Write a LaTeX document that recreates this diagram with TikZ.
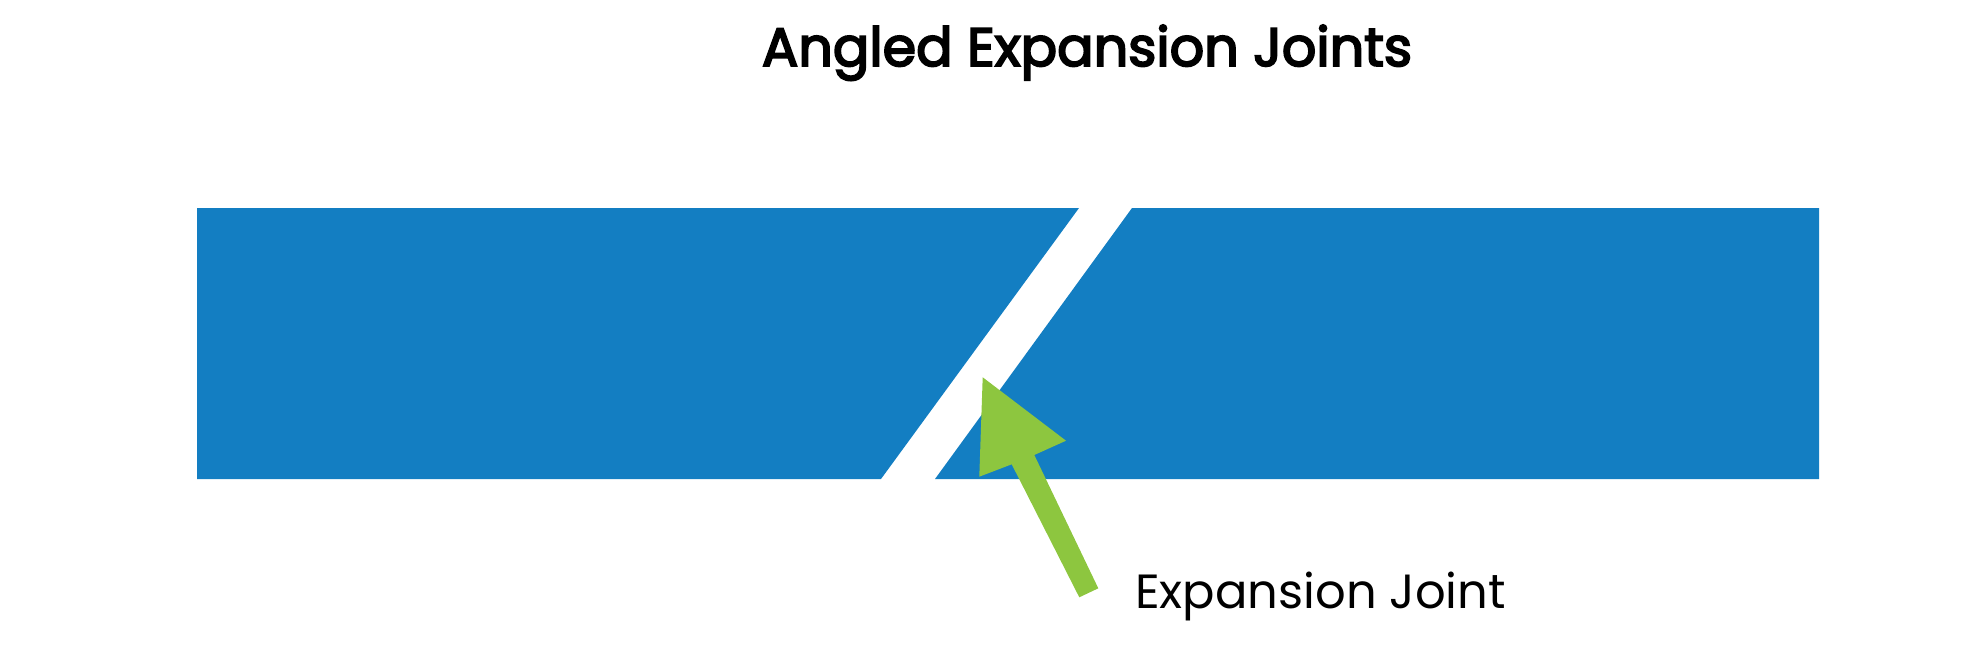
\documentclass[tikz,border=0pt]{standalone}
\usepackage{fontspec}
\setmainfont{Poppins}
\newfontfamily\headfont{Poppins}[FakeBold=3.5]
\definecolor{jointblue}{HTML}{137EC2}
\definecolor{arrowgreen}{HTML}{8DC63F}
\begin{document}
\begin{tikzpicture}[x=1pt,y=-1pt,
  slab/.style={fill=jointblue,draw=none},
  pointer/.style={fill=arrowgreen,draw=none},
  titletext/.style={font=\fontsize{54}{60}\headfont,inner sep=0pt},
  labeltext/.style={font=\fontsize{48}{54}\selectfont,inner sep=0pt}]
\useasboundingbox (0,0) rectangle (1984,649);
% left slab
\fill[slab] (197,208) -- (1079,208) -- (881,479) -- (197,479) -- cycle;
% right slab
\fill[slab] (1132,208) -- (1819,208) -- (1819,479) -- (935,479) -- cycle;
% arrow
\fill[pointer] (982.7,377.3) -- (1066,440.7) -- (1034.3,455) -- (1098.3,588.3)
  -- (1079.3,597.3) -- (1011.7,464.3) -- (979.3,476.7) -- cycle;
\node[titletext,anchor=base] (title) at (1087,66) {Angled Expansion Joints};
\node[labeltext,anchor=base west] (label) at (1135,608) {Expansion Joint};
\end{tikzpicture}
\end{document}
